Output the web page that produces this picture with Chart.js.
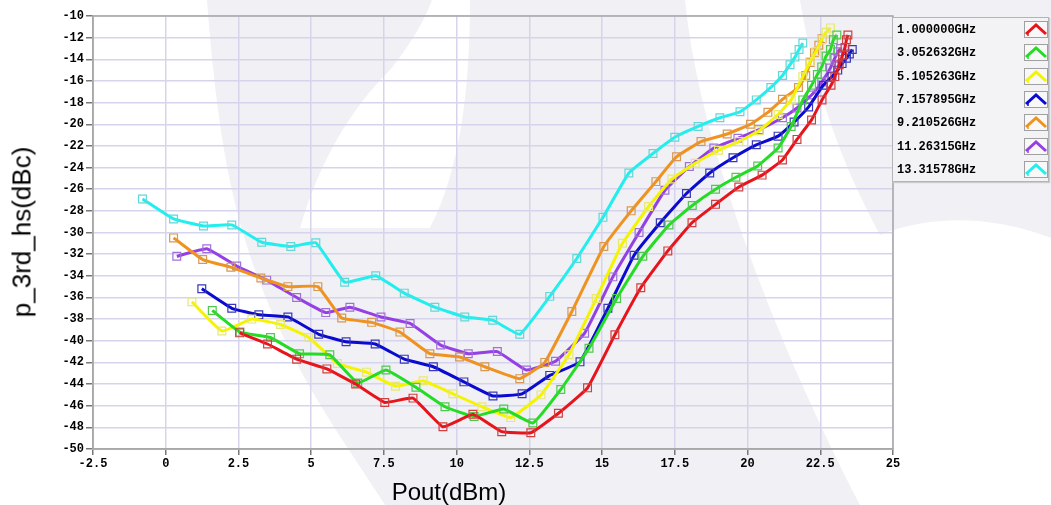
<!DOCTYPE html>
<html>
<head>
<meta charset="utf-8">
<script src="https://cdn.jsdelivr.net/npm/chart.js@4/dist/chart.umd.min.js"></script>
<style>
  html, body { margin: 0; padding: 0; background: #fff; }
  #wrap { position: relative; width: 1051px; height: 505px; overflow: hidden; }
  #chart { position: absolute; left: 0; top: 0; }
  .axis-title { position: absolute; font-family: "Liberation Sans", Arial, sans-serif; color: #000; white-space: nowrap; }
  #ytitle { font-size: 26px; left: 22px; top: 232px; transform: translate(-50%, -50%) rotate(-90deg); }
  #xtitle { font-size: 24px; left: 449px; top: 492px; transform: translate(-50%, -50%); }
  #legend {
    position: absolute; left: 892px; top: 17px; width: 157px; height: 165px;
    background: #f3f3f6; border: 1px solid #b4b4b8; box-sizing: border-box;
    box-shadow: 1px 1px 1px #ccc;
  }
  .item { position: absolute; left: 4px; height: 20px; width: 150px;
    font-family: "Liberation Mono", monospace; font-size: 12px; font-weight: bold; line-height: 20px; }
  .item svg { position: absolute; left: 127px; top: 1px; }
</style>
</head>
<body>
<div id="wrap">
  <canvas id="chart" width="1051" height="505"></canvas>
  <div id="ytitle" class="axis-title">p_3rd_hs(dBc)</div>
  <div id="xtitle" class="axis-title">Pout(dBm)</div>
  <div id="legend"></div>
</div>
<script>
// series names (legend)
const freqs = ['1.000000GHz', '3.052632GHz', '5.105263GHz', '7.157895GHz', '9.210526GHz', '11.26315GHz', '13.31578GHz'];

// Pout (dBm) and p_3rd_hs (dBc) for each frequency
const pout1 = [2.54, 3.5, 4.5, 5.54, 6.53, 7.53, 8.5, 9.53, 10.56, 11.55, 12.55, 13.5, 14.5, 15.44, 16.33, 17.26, 18.09, 18.9, 19.7, 20.5, 21.2, 21.7, 22.2, 22.56, 22.87, 23.0, 23.15, 23.27, 23.35, 23.4, 23.45];
const hs1 = [-39.27, -40.3, -41.7, -42.6, -44.0, -45.7, -45.3, -47.95, -46.8, -48.4, -48.5, -46.7, -44.35, -39.45, -35.1, -31.7, -29.1, -27.4, -25.8, -24.7, -23.3, -21.4, -19.6, -17.75, -16.4, -15.6, -14.5, -13.6, -12.9, -12.2, -11.75];

const pout2 = [1.6, 2.55, 3.6, 4.6, 5.64, 6.6, 7.57, 8.6, 9.6, 10.6, 11.62, 12.62, 13.58, 14.55, 15.5, 16.4, 17.3, 18.1, 18.9, 19.6, 20.35, 21.05, 21.5, 21.9, 22.2, 22.4, 22.55, 22.7, 22.85, 22.95, 23.07];
const hs2 = [-37.2, -39.2, -39.7, -41.2, -41.3, -43.9, -42.7, -44.3, -46.1, -47.0, -46.3, -47.6, -44.5, -40.7, -36.1, -32.2, -29.3, -27.5, -26.0, -24.9, -23.85, -22.2, -20.2, -17.75, -16.4, -15.4, -14.7, -13.7, -13.1, -12.2, -11.75];

const pout3 = [0.9, 1.93, 2.96, 3.95, 4.92, 5.9, 6.9, 7.9, 8.85, 9.87, 10.87, 11.86, 12.9, 13.86, 14.8, 15.7, 16.6, 17.4, 18.2, 19.0, 19.7, 20.4, 21.05, 21.5, 21.9, 22.15, 22.35, 22.55, 22.7, 22.85];
const hs3 = [-36.4, -39.1, -38.0, -38.5, -39.7, -42.1, -42.9, -44.2, -43.7, -44.9, -46.1, -47.1, -45.0, -41.3, -36.1, -31.0, -27.6, -25.05, -23.6, -22.4, -21.6, -20.6, -19.1, -17.75, -15.6, -14.2, -13.3, -12.2, -11.5, -11.1];

const pout4 = [1.24, 2.27, 3.2, 4.2, 5.26, 6.2, 7.2, 8.2, 9.2, 10.25, 11.25, 12.25, 13.2, 14.24, 15.2, 16.1, 17.0, 17.9, 18.7, 19.5, 20.3, 21.05, 21.6, 22.1, 22.6, 22.9, 23.1, 23.25, 23.4, 23.5, 23.6];
const hs4 = [-35.2, -37.0, -37.6, -37.8, -39.4, -40.1, -40.3, -41.7, -42.4, -43.8, -45.1, -44.9, -43.2, -41.95, -37.0, -32.1, -29.1, -26.4, -24.5, -23.1, -21.9, -21.1, -19.8, -18.4, -16.4, -15.6, -15.0, -14.4, -13.9, -13.5, -13.1];

const pout5 = [0.27, 1.27, 2.24, 3.27, 4.2, 5.23, 6.05, 7.08, 8.05, 9.08, 10.1, 10.97, 12.17, 13.03, 13.96, 15.06, 16.0, 16.85, 17.56, 18.4, 19.3, 20.1, 20.7, 21.2, 21.75, 22.0, 22.15, 22.3, 22.45, 22.56];
const hs5 = [-30.5, -32.5, -33.2, -34.2, -35.0, -35.0, -37.9, -38.3, -39.2, -41.2, -41.5, -42.4, -43.5, -42.0, -37.3, -31.3, -28.0, -25.3, -23.0, -21.6, -20.9, -20.0, -18.9, -17.7, -16.6, -15.5, -14.3, -13.4, -12.7, -12.1];

const pout6 = [0.38, 1.41, 2.44, 3.47, 4.5, 5.5, 6.33, 7.4, 8.4, 9.45, 10.4, 11.4, 12.4, 13.4, 14.4, 15.37, 16.27, 17.16, 18.0, 18.84, 19.67, 20.4, 21.2, 21.7, 22.2, 22.55, 22.85, 23.0, 23.1, 23.2];
const hs6 = [-32.2, -31.5, -33.1, -34.4, -36.0, -37.4, -36.9, -37.8, -38.4, -40.4, -41.2, -41.0, -42.7, -41.9, -39.3, -34.1, -30.0, -26.1, -23.9, -22.2, -21.3, -20.5, -19.4, -18.5, -17.3, -16.1, -14.8, -13.9, -13.3, -13.0];

const pout7 = [-0.8, 0.27, 1.3, 2.27, 3.3, 4.3, 5.16, 6.15, 7.22, 8.2, 9.25, 10.28, 11.24, 12.17, 13.2, 14.13, 15.03, 15.92, 16.75, 17.5, 18.3, 19.05, 19.74, 20.3, 20.8, 21.2, 21.46, 21.63, 21.77, 21.9];
const hs7 = [-26.9, -28.75, -29.4, -29.3, -30.9, -31.3, -30.95, -34.6, -34.0, -35.6, -36.9, -37.8, -38.1, -39.4, -35.9, -32.4, -28.6, -24.5, -22.7, -21.2, -20.2, -19.4, -18.85, -17.75, -16.6, -15.5, -14.5, -13.8, -13.1, -12.5];

const xValues = [pout1, pout2, pout3, pout4, pout5, pout6, pout7];
const yValues = [hs1, hs2, hs3, hs4, hs5, hs6, hs7];

const lineColors = ['#e8141c', '#22dd22', '#f4f400', '#0a0ad0', '#f0921e', '#9440e4', '#22eeee'];
const markColors = ['#d04040', '#50c850', '#e8e870', '#3838b8', '#d89850', '#a070d8', '#60d8d8'];

function toPoints(xs, ys) {
    const n = Math.min(xs.length, ys.length);
    const pts = [];
    for (let i = 0; i < n; i++) pts.push({ x: xs[i], y: ys[i] });
    return pts;
}

// faint logo watermark in the background
const watermark = {
    id: 'watermark',
    beforeDraw(chart) {
        const ctx = chart.ctx;
        ctx.save();
        ctx.fillStyle = '#f0f0f5';
        // diagonal band and the middle area
        ctx.beginPath();
        ctx.moveTo(207, 0);
        ctx.bezierCurveTo(220, 170, 240, 250, 290, 350);
        ctx.bezierCurveTo(320, 410, 350, 450, 385, 505);
        ctx.lineTo(860, 505);
        ctx.bezierCurveTo(780, 350, 700, 150, 685, 0);
        ctx.closePath();
        ctx.fill();
        // top right piece beyond the white arc
        ctx.beginPath();
        ctx.moveTo(800, 0);
        ctx.lineTo(1051, 0);
        ctx.lineTo(1051, 238);
        ctx.bezierCurveTo(990, 215, 930, 215, 880, 235);
        ctx.bezierCurveTo(840, 160, 815, 90, 800, 0);
        ctx.closePath();
        ctx.fill();
        ctx.fillStyle = '#ffffff';
        // notch near the top left
        ctx.beginPath();
        ctx.moveTo(300, 228);
        ctx.bezierCurveTo(320, 160, 350, 110, 390, 70);
        ctx.bezierCurveTo(410, 45, 425, 20, 432, 0);
        ctx.lineTo(470, 0);
        ctx.bezierCurveTo(470, 90, 460, 170, 430, 228);
        ctx.closePath();
        ctx.fill();
        ctx.restore();
    }
};

// frame around the plot area
const frame = {
    id: 'frame',
    afterDraw(chart) {
        const a = chart.chartArea;
        const ctx = chart.ctx;
        ctx.save();
        ctx.strokeStyle = '#a8a8a8';
        ctx.lineWidth = 1.5;
        ctx.strokeRect(a.left, a.top, a.right - a.left, a.bottom - a.top);
        ctx.restore();
    }
};

const datasets = freqs.map((name, i) => ({
    label: name,
    data: toPoints(xValues[i], yValues[i]),
    borderColor: lineColors[i],
    borderWidth: 3,
    pointStyle: 'rect',
    pointRadius: 5.5,
    pointBorderWidth: 1.2,
    pointBorderColor: markColors[i],
    pointBackgroundColor: 'rgba(0,0,0,0)',
    tension: 0.1,
    fill: false
}));

const tickFont = { family: '"Liberation Mono", monospace', size: 12, weight: 'bold' };

new Chart(document.getElementById('chart'), {
    type: 'line',
    data: { datasets: datasets },
    options: {
        responsive: false,
        animation: false,
        layout: { padding: { top: 16, right: 158, left: 0, bottom: 0 } },
        plugins: { legend: { display: false }, tooltip: { enabled: false } },
        scales: {
            x: {
                type: 'linear',
                min: -2.5,
                max: 25,
                ticks: { stepSize: 2.5, color: '#000', font: tickFont, padding: 2, maxRotation: 0 },
                grid: { color: '#d6d3ec', lineWidth: 1.5, tickColor: '#777', tickLength: 6 },
                border: { color: '#a8a8a8', width: 1.5 },
                afterFit(scale) { scale.height = 56; }
            },
            y: {
                min: -50,
                max: -10,
                ticks: { stepSize: 2, color: '#000', font: tickFont, padding: 2 },
                grid: { color: '#d6d3ec', lineWidth: 1.5, tickColor: '#777', tickLength: 7 },
                border: { color: '#a8a8a8', width: 1.5 },
                afterFit(scale) { scale.width = 93; }
            }
        }
    },
    plugins: [watermark, frame]
});

// legend on the right
const legend = document.getElementById('legend');
freqs.forEach((name, i) => {
    const div = document.createElement('div');
    div.className = 'item';
    div.style.top = (2 + i * 23.3) + 'px';
    div.innerHTML = '<span>' + name + '</span>' +
        '<svg width="24" height="17" viewBox="0 0 24 17">' +
        '<rect x="0.5" y="0.5" width="23" height="16" fill="#f8f8f8" stroke="#a0a0a0"/>' +
        '<polyline points="2,13 12,4 22,13" fill="none" stroke="' + lineColors[i] + '" stroke-width="3"/>' +
        '<line x1="4" y1="11" x2="4" y2="15" stroke="' + lineColors[i] + '" stroke-width="1.5"/>' +
        '</svg>';
    legend.appendChild(div);
});
</script>
</body>
</html>
